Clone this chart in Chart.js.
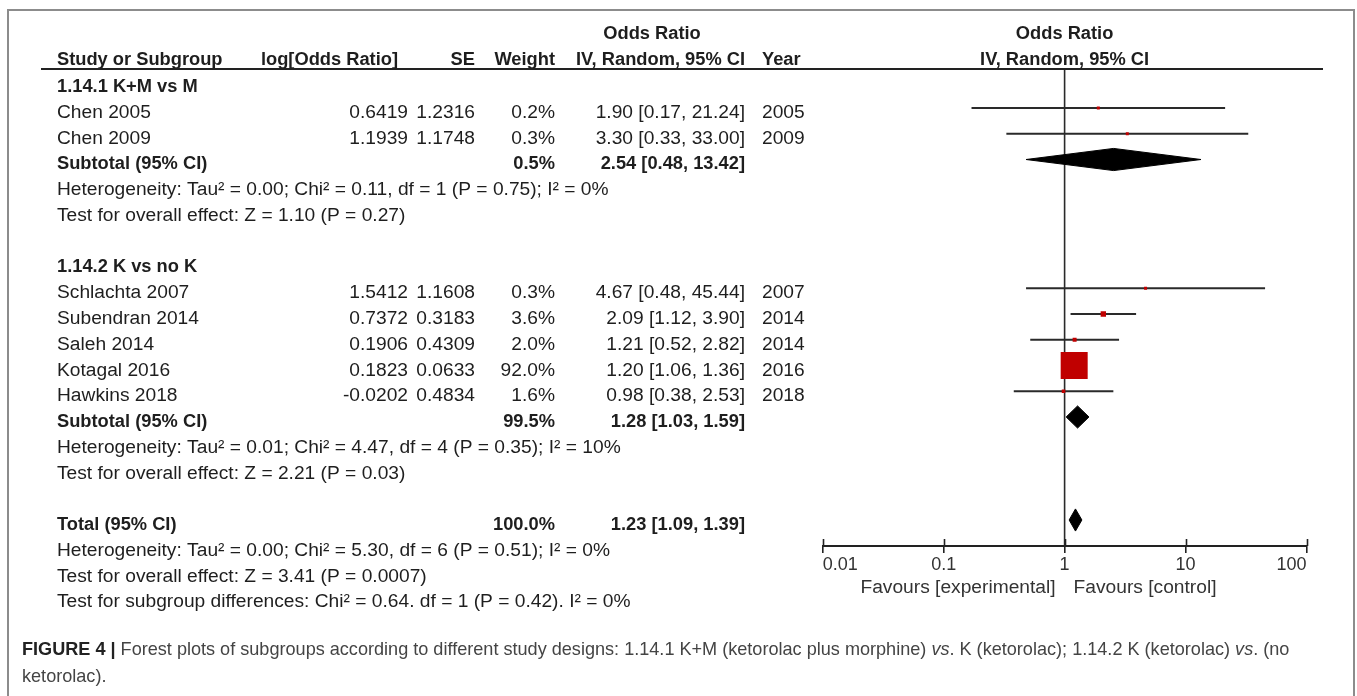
<!DOCTYPE html>
<html>
<head>
<meta charset="utf-8">
<script src="https://cdn.jsdelivr.net/npm/chart.js@4.4.1/dist/chart.umd.min.js"></script>
<style>
  html, body { margin: 0; padding: 0; background: #fff; }
  #wrap { position: relative; width: 1357px; height: 696px; overflow: hidden; }
  #forest { position: absolute; left: 0; top: 0; }
  #caption {
    position: absolute; left: 22px; top: 636px;
    font: 18.1px "Liberation Sans", Arial, sans-serif; line-height: 27px;
    color: #444; white-space: nowrap;
  }
  #caption b { color: #222; }
</style>
</head>
<body>
<div id="wrap">
  <canvas id="forest" width="1357" height="696"></canvas>
  <div id="caption"><b>FIGURE 4 |</b> Forest plots of subgroups according to different study designs: 1.14.1 K+M (ketorolac plus morphine) <i>vs</i>. K (ketorolac); 1.14.2 K (ketorolac) <i>vs</i>. (no<br>ketorolac).</div>
</div>
<script>
// ---- study-level data ----
const groupNames   = ['1.14.1 K+M vs M', '1.14.2 K vs no K'];
const studyNames   = ['Chen 2005', 'Chen 2009', 'Schlachta 2007', 'Subendran 2014', 'Saleh 2014', 'Kotagal 2016', 'Hawkins 2018'];
const studyGroup   = [0, 0, 1, 1, 1, 1, 1];
const logOddsRatio = [0.6419, 1.1939, 1.5412, 0.7372, 0.1906, 0.1823, -0.0202];
const stdError     = [1.2316, 1.1748, 1.1608, 0.3183, 0.4309, 0.0633, 0.4834];
const weightPct    = [0.2, 0.3, 0.3, 3.6, 2.0, 92.0, 1.6];
const oddsRatio    = [1.90, 3.30, 4.67, 2.09, 1.21, 1.20, 0.98];
const ciLower      = [0.17, 0.33, 0.48, 1.12, 0.52, 1.06, 0.38];
const ciUpper      = [21.24, 33.00, 45.44, 3.90, 2.82, 1.36, 2.53];
const studyYear    = [2005, 2009, 2007, 2014, 2014, 2016, 2018];

// ---- pooled estimates: subgroup 1, subgroup 2, overall ----
const pooledLabel  = ['Subtotal (95% CI)', 'Subtotal (95% CI)', 'Total (95% CI)'];
const pooledWeight = [0.5, 99.5, 100.0];
const pooledOR     = [2.54, 1.28, 1.23];
const pooledLower  = [0.48, 1.03, 1.09];
const pooledUpper  = [13.42, 1.59, 1.39];
const heterogeneity = [
  'Heterogeneity: Tau\u00B2 = 0.00; Chi\u00B2 = 0.11, df = 1 (P = 0.75); I\u00B2 = 0%',
  'Heterogeneity: Tau\u00B2 = 0.01; Chi\u00B2 = 4.47, df = 4 (P = 0.35); I\u00B2 = 10%',
  'Heterogeneity: Tau\u00B2 = 0.00; Chi\u00B2 = 5.30, df = 6 (P = 0.51); I\u00B2 = 0%'
];
const overallEffect = [
  'Test for overall effect: Z = 1.10 (P = 0.27)',
  'Test for overall effect: Z = 2.21 (P = 0.03)',
  'Test for overall effect: Z = 3.41 (P = 0.0007)'
];
const subgroupDifference = 'Test for subgroup differences: Chi\u00B2 = 0.64. df = 1 (P = 0.42). I\u00B2 = 0%';

// ---- axis ----
const axisTicks    = [0.01, 0.1, 1, 10, 100];
const favourLabels = ['Favours [experimental]', 'Favours [control]'];

// ---- build the row list (one row per text line) ----
const rows = [];
groupNames.forEach((g, gi) => {
  rows.push({ kind: 'group', text: g });
  studyNames.forEach((s, i) => { if (studyGroup[i] === gi) rows.push({ kind: 'study', idx: i }); });
  rows.push({ kind: 'pooled', idx: gi });
  rows.push({ kind: 'note', text: heterogeneity[gi] });
  rows.push({ kind: 'note', text: overallEffect[gi] });
  rows.push({ kind: 'blank' });
});
rows.push({ kind: 'pooled', idx: 2 });
rows.push({ kind: 'note', text: heterogeneity[2] });
rows.push({ kind: 'note', text: overallEffect[2] });
rows.push({ kind: 'note', text: subgroupDifference });

const studyRow  = studyNames.map((_, i) => rows.findIndex(r => r.kind === 'study' && r.idx === i));
const pooledRow = pooledLabel.map((_, k) => rows.findIndex(r => r.kind === 'pooled' && r.idx === k));

// ---- styling / layout constants ----
const FONT = '"Liberation Sans", Arial, sans-serif';
const REG = '19.2px ' + FONT;
const BOLD = 'bold 18.3px ' + FONT;
const INK = '#1e1e1e';
const Y_MIN = -0.515, Y_MAX = 18.01;      // row units spanned by the plot panel
const TEXT_SHIFT = 4.75;                   // text sits slightly below the plotted mark
const DIAMOND_HALF = 0.43;                 // diamond half-height in row units
const COL = { name: 57, logOrHead: 398, logOr: 408, se: 475, weight: 555, ci: 745, year: 762 };

function squareRadius(w) {
  const side = Math.max(3, 27 * Math.sqrt(w / 92));
  return side / (2 * Math.SQRT1_2);
}

// ---- datasets ----
const datasets = [];
datasets.push({
  type: 'scatter', label: 'study', order: 0,
  data: studyNames.map((_, i) => ({ x: oddsRatio[i], y: studyRow[i] })),
  pointStyle: 'rect', pointRadius: weightPct.map(squareRadius),
  backgroundColor: '#c00000', borderColor: '#c00000', borderWidth: 0
});
pooledLabel.forEach((_, k) => {
  const r = pooledRow[k];
  datasets.push({
    type: 'line', label: 'pooled-top', order: 1,
    data: [{ x: pooledLower[k], y: r }, { x: pooledOR[k], y: r - DIAMOND_HALF }, { x: pooledUpper[k], y: r }],
    borderColor: '#000', borderWidth: 1, pointRadius: 0, tension: 0,
    backgroundColor: '#000', fill: '+1'
  });
  datasets.push({
    type: 'line', label: 'pooled-bottom', order: 1,
    data: [{ x: pooledLower[k], y: r }, { x: pooledOR[k], y: r + DIAMOND_HALF }, { x: pooledUpper[k], y: r }],
    borderColor: '#000', borderWidth: 1, pointRadius: 0, tension: 0, fill: false
  });
});
studyNames.forEach((_, i) => {
  datasets.push({
    type: 'line', label: 'ci', order: 2,
    data: [{ x: ciLower[i], y: studyRow[i] }, { x: ciUpper[i], y: studyRow[i] }],
    borderColor: '#2a2a2a', borderWidth: 2, pointRadius: 0, fill: false
  });
});
datasets.push({
  type: 'line', label: 'null', order: 3,
  data: [{ x: 1, y: Y_MIN }, { x: 1, y: Y_MAX }],
  borderColor: '#2a2a2a', borderWidth: 1.6, pointRadius: 0, fill: false, clip: false
});

// ---- table, header, frame and axis decorations ----
const tablePlugin = {
  id: 'forestTable',
  beforeDraw(chart) {
    const ctx = chart.ctx;
    ctx.save();
    ctx.strokeStyle = '#8c8c8c';
    ctx.lineWidth = 2;
    ctx.strokeRect(8, 10, 1346, 720);
    ctx.restore();
  },
  afterDraw(chart) {
    const ctx = chart.ctx;
    const xs = chart.scales.x, ys = chart.scales.y;
    const area = chart.chartArea;
    ctx.save();
    ctx.fillStyle = INK;
    ctx.textBaseline = 'middle';

    const put = (txt, x, y, align, font) => {
      ctx.font = font; ctx.textAlign = align; ctx.fillText(txt, x, y);
    };

    // column headers
    const panelMid = xs.getPixelForValue(1);
    put('Odds Ratio', 652, 34, 'center', BOLD);
    put('Study or Subgroup', COL.name, 60, 'left', BOLD);
    put('log[Odds Ratio]', COL.logOrHead, 60, 'right', BOLD);
    put('SE', COL.se, 60, 'right', BOLD);
    put('Weight', COL.weight, 60, 'right', BOLD);
    put('IV, Random, 95% CI', COL.ci, 60, 'right', BOLD);
    put('Year', COL.year, 60, 'left', BOLD);
    put('Odds Ratio', panelMid, 34, 'center', BOLD);
    put('IV, Random, 95% CI', panelMid, 60, 'center', BOLD);

    // header rule
    ctx.strokeStyle = '#222';
    ctx.lineWidth = 2;
    ctx.beginPath(); ctx.moveTo(41, area.top); ctx.lineTo(1323, area.top); ctx.stroke();

    // table body
    rows.forEach((row, r) => {
      const y = ys.getPixelForValue(r) + TEXT_SHIFT;
      if (row.kind === 'group') {
        put(row.text, COL.name, y, 'left', BOLD);
      } else if (row.kind === 'study') {
        const i = row.idx;
        put(studyNames[i], COL.name, y, 'left', REG);
        put(logOddsRatio[i].toFixed(4), COL.logOr, y, 'right', REG);
        put(stdError[i].toFixed(4), COL.se, y, 'right', REG);
        put(weightPct[i].toFixed(1) + '%', COL.weight, y, 'right', REG);
        put(oddsRatio[i].toFixed(2) + ' [' + ciLower[i].toFixed(2) + ', ' + ciUpper[i].toFixed(2) + ']', COL.ci, y, 'right', REG);
        put(String(studyYear[i]), COL.year, y, 'left', REG);
      } else if (row.kind === 'pooled') {
        const k = row.idx;
        put(pooledLabel[k], COL.name, y, 'left', BOLD);
        put(pooledWeight[k].toFixed(1) + '%', COL.weight, y, 'right', BOLD);
        put(pooledOR[k].toFixed(2) + ' [' + pooledLower[k].toFixed(2) + ', ' + pooledUpper[k].toFixed(2) + ']', COL.ci, y, 'right', BOLD);
      } else if (row.kind === 'note') {
        put(row.text, COL.name, y, 'left', REG);
      }
    });

    // upper halves of the axis tick marks
    ctx.strokeStyle = '#222';
    ctx.lineWidth = 1.6;
    xs.ticks.forEach(t => {
      const px = Math.round(xs.getPixelForValue(t.value)) + 0.5;
      ctx.beginPath(); ctx.moveTo(px, area.bottom - 7); ctx.lineTo(px, area.bottom); ctx.stroke();
    });

    // favours labels either side of the line of no effect
    ctx.fillStyle = '#333';
    put(favourLabels[0], panelMid - 9, area.bottom + 42, 'right', REG);
    put(favourLabels[1], panelMid + 9, area.bottom + 42, 'left', REG);
    ctx.restore();
  }
};

new Chart(document.getElementById('forest'), {
  type: 'line',
  data: { datasets },
  options: {
    responsive: false,
    animation: false,
    events: [],
    layout: { padding: { left: 822.7, right: 50.5, top: 69, bottom: 100 } },
    plugins: { legend: { display: false }, tooltip: { enabled: false }, filler: { propagate: false } },
    scales: {
      x: {
        type: 'logarithmic', min: 0.01, max: 100, position: 'bottom',
        afterBuildTicks: s => { s.ticks = axisTicks.map(v => ({ value: v, major: true })); },
        afterFit: s => { s.height = 50; },
        ticks: {
          autoSkip: false, maxRotation: 0, minRotation: 0, align: 'inner', padding: 1,
          color: '#333', font: { family: FONT, size: 18 },
          callback: v => String(v)
        },
        grid: { drawOnChartArea: false, drawTicks: true, tickLength: 7, color: '#222', lineWidth: 1.6 },
        border: { display: true, color: '#222', width: 2 }
      },
      y: { type: 'linear', reverse: true, min: Y_MIN, max: Y_MAX, display: false }
    }
  },
  plugins: [tablePlugin]
});
</script>
</body>
</html>
